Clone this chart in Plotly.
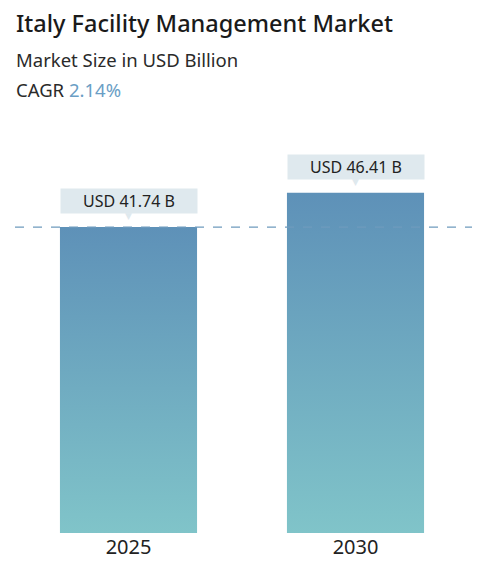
import plotly.graph_objects as go

# data
years = ["2025", "2030"]
market_size = [41.74, 46.41]
value_labels = ["USD 41.74 B", "USD 46.41 B"]
cagr_text = "2.14%"

title = "Italy Facility Management Market"
subtitle = "Market Size in USD Billion"

FONT = "Noto Sans"
W, H = 473, 568          # page body adds an 8px margin
BOTTOM, TOP = 43, 112
px_per_x = 227
half = 0.302             # half bar width in x units

fig = go.Figure()

for i, v in enumerate(market_size):
    fig.add_trace(go.Scatter(
        x=[i - half, i + half, i + half, i - half, i - half],
        y=[0, 0, v, v, 0],
        mode="lines",
        fill="toself",
        line=dict(width=0),
        fillgradient=dict(
            type="vertical",
            colorscale=[[0, "#80c4c9"], [1, "#5e91b8"]],
        ),
        hoverinfo="skip",
        showlegend=False,
    ))

# dashed reference line at first value
fig.add_shape(
    type="line", xref="paper", yref="y",
    x0=7 / W, x1=464 / W, y0=market_size[0], y1=market_size[0],
    line=dict(color="#6f9bbd", width=1.3, dash="dash"),
    layer="above",
)

# value callouts
for i, (v, lab) in enumerate(zip(market_size, value_labels)):
    fig.add_annotation(
        x=i, y=v, xref="x", yref="y",
        text=lab, showarrow=False,
        yanchor="bottom", yshift=13,
        font=dict(family=FONT, size=16, color="#222222"),
        bgcolor="#dfe9ee", width=130, height=18, borderpad=3,
    )
    fig.add_annotation(
        x=i, y=v, xref="x", yref="y",
        text="▼", showarrow=False,
        yanchor="bottom", yshift=4,
        font=dict(family="DejaVu Sans", size=9, color="#dfe9ee"),
    )

# header texts (positions in px from top of figure)
plot_h = H - TOP - BOTTOM
header = [
    (title, 23.5, "#1a1a1a", 15, 500),
    (subtitle, 18.5, "#2a2a2a", 51, 400),
    (f"CAGR <span style='color:#6a9ec5'>{cagr_text}</span>", 18.5, "#2a2a2a", 81, 400),
]
for txt, size, col, ypix, wt in header:
    fig.add_annotation(
        x=6 / W, y=(H - BOTTOM - ypix) / plot_h, xref="paper", yref="paper",
        xanchor="left", yanchor="middle", text=txt, showarrow=False,
        font=dict(family=FONT, size=size, color=col, weight=wt),
    )

fig.update_layout(
    width=W, height=H,
    margin=dict(l=0, r=0, t=TOP, b=BOTTOM),
    paper_bgcolor="white", plot_bgcolor="white",
    xaxis=dict(
        range=[-120.5 / px_per_x, (W - 120.5) / px_per_x],
        tickvals=list(range(len(years))), ticktext=years,
        showgrid=False, zeroline=False, showline=False, ticks="",
        tickfont=dict(family=FONT, size=20, color="#222222"),
        fixedrange=True,
    ),
    yaxis=dict(
        range=[0, plot_h / 7.33],
        visible=False, fixedrange=True,
    ),
    showlegend=False,
)

fig.write_html("out.html")
